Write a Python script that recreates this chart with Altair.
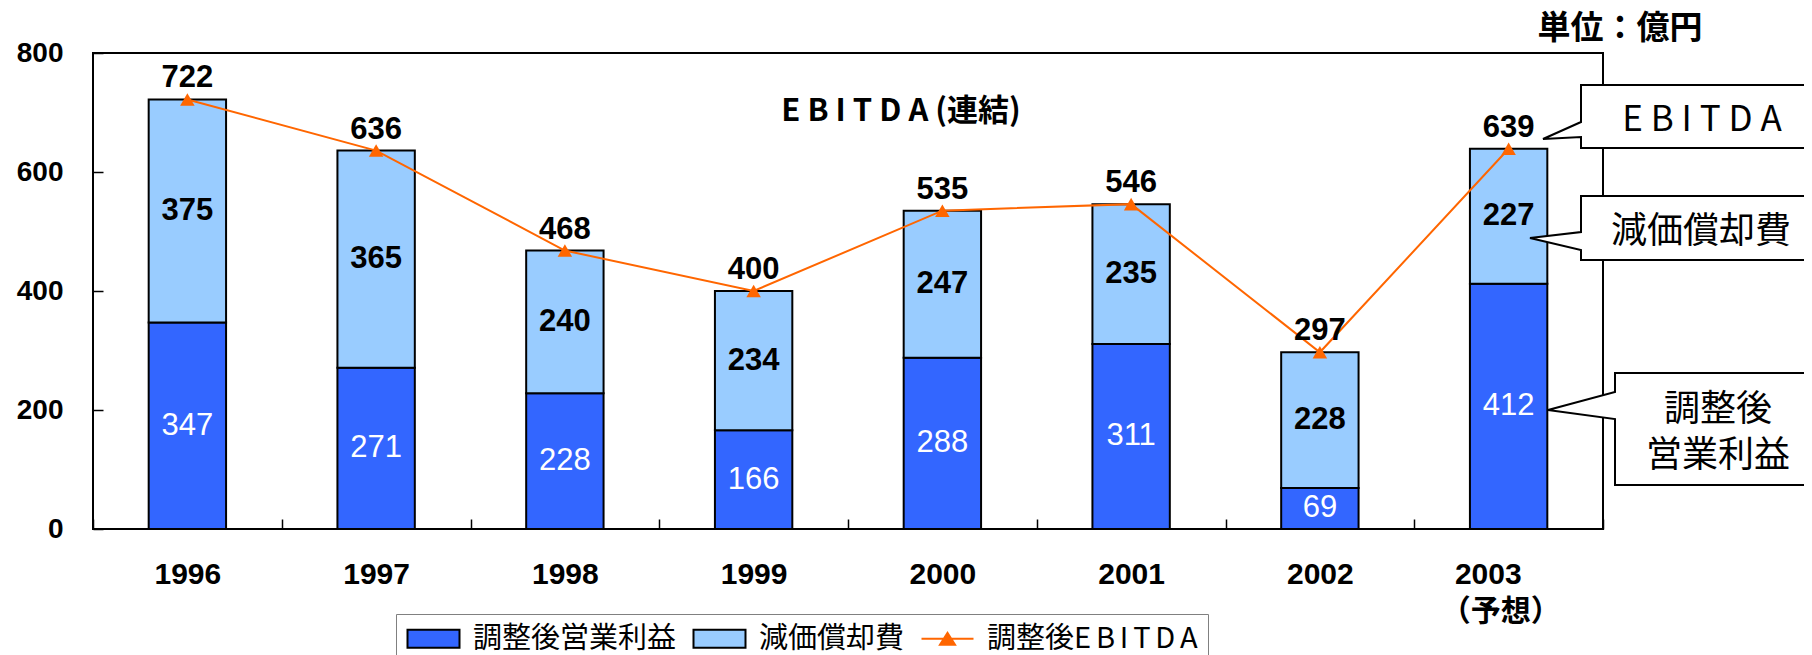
import altair as alt
import pandas as pd

# ---- data ----
years = ["1996", "1997", "1998", "1999", "2000", "2001", "2002", "2003"]
op_profit = [347, 271, 228, 166, 288, 311, 69, 412]        # 調整後営業利益
depreciation = [375, 365, 240, 234, 247, 235, 228, 227]    # 減価償却費
ebitda = [722, 636, 468, 400, 535, 546, 297, 639]          # 調整後EBITDA
series = ["調整後営業利益", "減価償却費", "調整後E\u2006B\u2006I\u2006T\u2006D\u2006A"]
y_ticks = [0, 200, 400, 600, 800]
title_text = "E B I T D A (連結)"
unit_text = "単位：億円"
forecast_year = "2003"
forecast_note = "（予想）"
callout_ebitda = "E B I T D A"
callout_dep = "減価償却費"
callout_op = "調整後\n営業利益"

# ---- styling ----
C_OP = "#3366FF"
C_DEP = "#99CCFF"
C_LINE = "#FF6600"
NUM_FONT = "Liberation Sans, Arial, Noto Sans CJK JP"
CJK_FONT = "Noto Sans CJK JP"
W, H = 1510, 476
NB = "\u00a0"
ZW = "\u200b"

df = pd.DataFrame({"year": years, "op": op_profit, "dep": depreciation, "ebitda": ebitda})

label_expr = (
    f"datum.value == '{forecast_year}' ? "
    f"['{forecast_year}{NB * 5}{ZW}', '{forecast_note}{NB * 2}{ZW}'] : datum.label"
)
xaxis = alt.Axis(
    title=None, domain=False, offset=-10, tickSize=10, tickBand="extent",
    tickColor="black", tickWidth=1.5, labelPadding=30, labelFont=NUM_FONT,
    labelFontSize=30, labelFontWeight="bold", labelColor="black", labelAngle=0,
    labelLineHeight=37, labelOverlap=False, labelExpr=label_expr,
)
yaxis = alt.Axis(
    title=None, domain=False, offset=-10, tickSize=10, values=y_ticks,
    tickColor="black", tickWidth=1.5, labelPadding=30, labelFont=NUM_FONT,
    labelFontSize=28, labelFontWeight="bold", labelColor="black", grid=False,
)
X = alt.X("year:N", sort=years, scale=alt.Scale(paddingInner=0, paddingOuter=0), axis=xaxis)
ysc = alt.Scale(domain=[0, 800], nice=False, zero=True)

base = alt.Chart(df)

bar_op = base.mark_bar(color=C_OP, stroke="black", strokeWidth=2,
                       width=alt.RelativeBandSize(0.41)).encode(
    x=X, y=alt.Y("op:Q", scale=ysc, axis=yaxis))

bar_dep = base.transform_calculate(top="datum.op + datum.dep").mark_bar(
    color=C_DEP, stroke="black", strokeWidth=2, width=alt.RelativeBandSize(0.41)).encode(
    x=X, y=alt.Y("top:Q", scale=ysc, axis=yaxis), y2="op:Q")

line = base.mark_line(color=C_LINE, strokeWidth=2).encode(
    x=X, y=alt.Y("ebitda:Q", scale=ysc, axis=yaxis))

markers = base.mark_point(shape="triangle-up", filled=True, color=C_LINE, size=210, opacity=1).encode(
    x=X, y=alt.Y("ebitda:Q", scale=ysc, axis=yaxis))

txt_op = base.transform_calculate(mid="datum.op / 2").mark_text(
    color="white", fontSize=31, font=NUM_FONT).encode(
    x=X, y=alt.Y("mid:Q", scale=ysc, axis=yaxis), text="op:Q")

txt_dep = base.transform_calculate(mid2="datum.op + datum.dep / 2").mark_text(
    color="black", fontSize=31, fontWeight="bold", font=NUM_FONT).encode(
    x=X, y=alt.Y("mid2:Q", scale=ysc, axis=yaxis), text="dep:Q")

txt_tot = base.mark_text(color="black", fontSize=31, fontWeight="bold", font=NUM_FONT,
                         baseline="bottom", dy=-5).encode(
    x=X, y=alt.Y("ebitda:Q", scale=ysc, axis=yaxis), text="ebitda:Q")

one = alt.InlineData(values=[{}])

title_mark = alt.Chart(one).mark_text(
    text=title_text, font=CJK_FONT, fontSize=31, fontWeight="bold", color="black").encode(
    x=alt.value(808), y=alt.value(59))

unit_mark = alt.Chart(one).mark_text(
    text=unit_text, font=CJK_FONT, fontSize=33, fontWeight="bold", color="black").encode(
    x=alt.value(1527), y=alt.value(-24))

# callout balloons (annotation shapes, pixel path relative to plot origin)
p1 = "M1488,32 H1730 V95 H1488 V84 L1450,86 L1488,69 Z"
p2 = "M1488,143 H1730 V207 H1488 V197 L1437,185 L1488,179 Z"
p3 = "M1522,320 H1730 V432 H1522 V366 L1455,357 L1522,339 Z"
callouts = []
for p in (p1, p2, p3):
    callouts.append(alt.Chart(one).mark_point(
        shape=p, size=4, filled=True, fill="white", stroke="black", strokeWidth=2, opacity=1).encode(
        x=alt.value(0), y=alt.value(0)))

ct1 = alt.Chart(one).mark_text(text=callout_ebitda, font=CJK_FONT, fontSize=35, color="black").encode(
    x=alt.value(1609), y=alt.value(67))
ct2 = alt.Chart(one).mark_text(text=callout_dep, font=CJK_FONT, fontSize=36, color="black").encode(
    x=alt.value(1608), y=alt.value(179))
ct3 = alt.Chart(one).mark_text(text=callout_op, font=CJK_FONT, fontSize=36, color="black",
                               lineBreak="\n", lineHeight=46).encode(
    x=alt.value(1625), y=alt.value(357))

# legend (built from a scale on the series names)
rect_sym = "M-1,-0.7 H3 V0.7 H-1 Z"
line_sym = "M-1,0 H3 M0.42,0.46 L1,-0.46 L1.58,0.46 Z"
leg_cfg = alt.Legend(
    title=None, orient="none", legendX=303, legendY=561, direction="horizontal",
    symbolSize=676, symbolStrokeWidth=2, symbolOpacity=1, labelFont=CJK_FONT,
    labelFontSize=29, labelColor="black", labelOffset=38, labelLimit=500,
    columnPadding=12, padding=10, strokeColor="#808080", fillColor="white",
)
leg_df = pd.DataFrame({"series": series})
legend_layer = alt.Chart(leg_df).transform_filter("false").mark_point(filled=True, opacity=1).encode(
    fill=alt.Fill("series:N", scale=alt.Scale(domain=series, range=[C_OP, C_DEP, C_LINE]), legend=leg_cfg),
    stroke=alt.Stroke("series:N", scale=alt.Scale(domain=series, range=["black", "black", C_LINE]), legend=leg_cfg),
    shape=alt.Shape("series:N", scale=alt.Scale(domain=series, range=[rect_sym, rect_sym, line_sym]), legend=leg_cfg),
)

chart = alt.layer(
    bar_op, bar_dep, line, markers, txt_op, txt_dep, txt_tot,
    title_mark, unit_mark, *callouts, ct1, ct2, ct3, legend_layer,
).properties(
    width=W, height=H,
    autosize=alt.AutoSizeParams(type="none"),
    padding={"left": 85, "top": 45, "right": 201, "bottom": 126},
    background="white",
).configure_view(stroke="black", strokeWidth=2)

chart.save("out.html", embed_options={"renderer": "svg", "actions": False})
